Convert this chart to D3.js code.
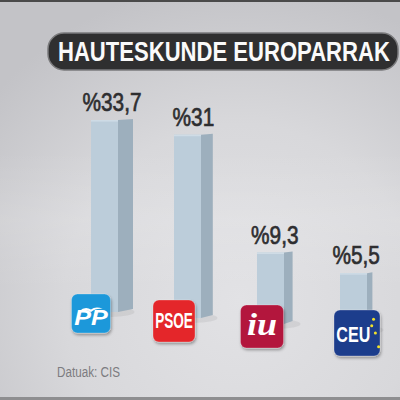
<!DOCTYPE html>
<html><head><meta charset="utf-8">
<script src="https://cdn.jsdelivr.net/npm/d3@7"></script>
<style>html,body{margin:0;padding:0;background:#d6d6d9;}svg{display:block;}</style>
</head><body>
<script>
const categories = ["PP", "PSOE", "IU", "CEU"];
const values = [33.7, 31, 9.3, 5.5];
const valueLabels = ["%33,7", "%31", "%9,3", "%5,5"];
const title = "HAUTESKUNDE EUROPARRAK";
const source = "Datuak: CIS";

const W = 400, H = 400;
const FONT = "'Liberation Sans', Arial, sans-serif";
const svg = d3.select("body").append("svg").attr("width", W).attr("height", H);
const defs = svg.append("defs");

// Fit a text element horizontally to a target width using a scale transform
function fitText(sel, x0, yb, width, anchor) {
  const nat = sel.node().getComputedTextLength();
  const k = width / nat;
  const tx = anchor === "middle" ? x0 : x0;
  sel.attr("text-anchor", anchor || "start").attr("transform", `translate(${tx},${yb}) scale(${k},1)`);
}

const bg = defs.append("radialGradient").attr("id", "bg").attr("cx", "0.6").attr("cy", "0.75").attr("r", "0.8");
bg.append("stop").attr("offset", "0").attr("stop-color", "#e2e2e5");
bg.append("stop").attr("offset", "0.55").attr("stop-color", "#d8d8db");
bg.append("stop").attr("offset", "1").attr("stop-color", "#c3c3c7");
const band = defs.append("linearGradient").attr("id", "band").attr("x1", 0).attr("y1", 0).attr("x2", 0).attr("y2", 1);
band.append("stop").attr("offset", "0").attr("stop-color", "#fff").attr("stop-opacity", 0);
band.append("stop").attr("offset", "0.5").attr("stop-color", "#fff").attr("stop-opacity", 0.12);
band.append("stop").attr("offset", "1").attr("stop-color", "#fff").attr("stop-opacity", 0);

const sh = defs.append("filter").attr("id", "sh").attr("x", "-30%").attr("y", "-30%").attr("width", "160%").attr("height", "160%");
sh.append("feDropShadow").attr("dx", 1).attr("dy", 2).attr("stdDeviation", 1.5).attr("flood-color", "#000").attr("flood-opacity", 0.35);

svg.append("rect").attr("width", W).attr("height", H).attr("fill", "url(#bg)");
svg.append("rect").attr("y", 150).attr("width", W).attr("height", 140).attr("fill", "url(#band)");
svg.append("rect").attr("width", W).attr("height", 2).attr("fill", "#4a4a4a");
svg.append("rect").attr("y", 397).attr("width", W).attr("height", 3).attr("fill", "#8e8e90");

// Title pill
svg.append("rect").attr("x", 48).attr("y", 33).attr("width", 350).attr("height", 37).attr("rx", 16)
  .attr("fill", "#2f2f30").attr("stroke", "#7a7a7c").attr("stroke-width", 1.5);
const tt = svg.append("text").attr("font-family", FONT).attr("font-weight", "bold").attr("font-size", 28)
  .attr("fill", "#fafafa").text(title);
fitText(tt, 58, 61, 332, "start");

// Scales
const x = d3.scalePoint().domain(categories).range([91, 340]);
const y = d3.scaleLinear().domain([0, 35]).range([303, 113]);

const frontW = 27;
const g = svg.append("g");
categories.forEach((c, i) => {
  const x0 = x(c), top = y(values[i]);
  const sideW = 15 - i * 3.2;
  const bottom = 312 + i * 6;
  g.append("ellipse").attr("cx", x0 + frontW / 2 + 6).attr("cy", bottom).attr("rx", 24).attr("ry", 5)
    .attr("fill", "#000").attr("opacity", 0.06);
  g.append("path").attr("d", `M${x0 + frontW},${top} L${x0 + frontW + sideW},${top - 1} L${x0 + frontW + sideW},${bottom - 3} L${x0 + frontW},${bottom} Z`)
    .attr("fill", "#9dafbd");
  g.append("rect").attr("x", x0).attr("y", top).attr("width", frontW).attr("height", bottom - top).attr("fill", "#bccdda");
  g.append("rect").attr("x", x0).attr("y", top).attr("width", frontW).attr("height", 1.5).attr("fill", "#cfdce6");
  const cx = x0 + (frontW + sideW) / 2;
  g.append("text").attr("transform", `translate(${cx},${top - 9}) scale(0.8,1)`).attr("text-anchor", "middle")
    .attr("font-family", FONT).attr("font-size", 26).attr("fill", "#2e2e30").attr("stroke", "#2e2e30").attr("stroke-width", 0.7)
    .text(valueLabels[i]);
});

// Logos
const logoSize = [39, 42, 43, 46];
const logoCx = [91, 174, 262, 357];
const logoTop = [294, 300, 305, 310];
const logoFill = {PP: "#1c98da", PSOE: "#e4282b", IU: "#b3143d", CEU: "#1e3d8c"};
categories.forEach((c, i) => {
  const s = logoSize[i];
  const lg = svg.append("g").attr("transform", `translate(${logoCx[i] - s / 2},${logoTop[i]})`);
  lg.append("rect").attr("width", s).attr("height", s).attr("rx", 6).attr("fill", logoFill[c]).attr("filter", "url(#sh)")
    .attr("stroke", "#fff").attr("stroke-opacity", 0.25).attr("stroke-width", 1);
  if (c === "PP") {
    lg.append("path").attr("d", `M${s*0.2},${s*0.44} Q${s*0.35},${s*0.3} ${s*0.5},${s*0.4} Q${s*0.62},${s*0.3} ${s*0.8},${s*0.38} Q${s*0.62},${s*0.36} ${s*0.5},${s*0.46} Q${s*0.35},${s*0.37} ${s*0.2},${s*0.44} Z`)
      .attr("fill", "#fff");
    const t = lg.append("text").attr("font-family", FONT).attr("font-style", "italic").attr("font-weight", "bold")
      .attr("font-size", 22).attr("fill", "#fff").text("PP");
    fitText(t, s / 2, s * 0.8, s * 0.86, "middle");
  } else if (c === "PSOE") {
    const t = lg.append("text").attr("font-family", FONT).attr("font-weight", "bold")
      .attr("font-size", 22).attr("fill", "#fff").text("PSOE");
    fitText(t, s / 2, s * 0.67, s * 0.9, "middle");
  } else if (c === "IU") {
    const t = lg.append("text").attr("font-family", "'Liberation Serif', 'DejaVu Serif', serif").attr("font-style", "italic").attr("font-weight", "bold")
      .attr("font-size", 32).attr("fill", "#fff").text("iu");
    fitText(t, s / 2, s * 0.7, s * 0.7, "middle");
  } else {
    const t = lg.append("text").attr("font-family", FONT).attr("font-weight", "bold")
      .attr("font-size", 22).attr("fill", "#fff").text("CEU");
    fitText(t, s * 0.42, s * 0.7, s * 0.74, "middle");
    [[0.86, 0.2], [0.9, 0.5], [0.97, 0.8], [0.82, 0.34]].forEach(([a, b]) => {
      lg.append("circle").attr("cx", s * a).attr("cy", s * b).attr("r", 1.5).attr("fill", "#f2e22a");
    });
  }
});

const st = svg.append("text").attr("font-family", FONT).attr("font-size", 15).attr("fill", "#7c7c80").text(source);
fitText(st, 57, 377, 63, "start");
</script>
</body></html>
